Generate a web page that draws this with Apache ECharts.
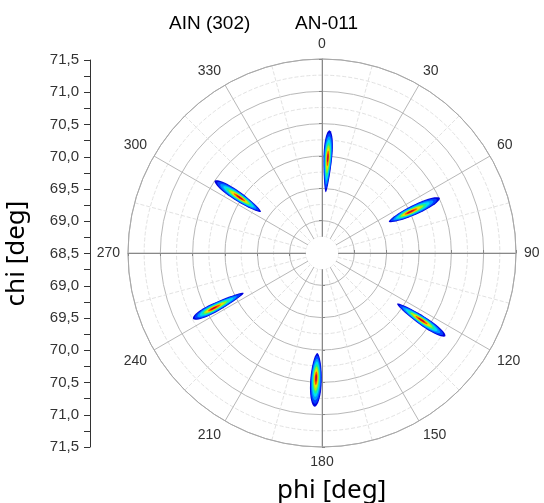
<!DOCTYPE html>
<html>
<head>
<meta charset="utf-8">
<script src="https://cdn.jsdelivr.net/npm/echarts@6/dist/echarts.min.js"></script>
<style>
  html, body { margin: 0; padding: 0; background: #fff; }
  #chart { width: 544px; height: 503px; }
</style>
</head>
<body>
<div id="chart"></div>
<script>
// axis ranges
const chiMin = 68.5;
const chiMax = 71.5;
const holeChi = 68.75;
const phiTicks = [0, 30, 60, 90, 120, 150, 180, 210, 240, 270, 300, 330];

// the six (302) reflections: peak position and extent of the outer contour
const phiPeak = [3.5, 65, 124, 182.7, 243, 304];
const chiPeak = [69.98, 70.0, 70.36, 70.43, 70.39, 70.03];
const chiInner = [69.44, 69.64, 69.9, 70.05, 69.86, 69.64];
const chiOuter = [70.40, 70.51, 70.8, 70.88, 70.74, 70.5];
const phiHalfWidth = [2.6, 2.8, 2.2, 2.6, 2.2, 2.7];

// contour levels (outer -> inner)
const levelScale = [1, 0.9, 0.78, 0.66, 0.55, 0.45, 0.35, 0.25, 0.14];
const levelColor = ['#0000dc', '#0040ff', '#0098ff', '#00e0f0', '#20f090', '#a0f020', '#f0e000', '#ff5000', '#c00030'];

const peaks = phiPeak.map((p, i) => [chiPeak[i], p, chiInner[i], chiOuter[i], phiHalfWidth[i]]);

const chart = echarts.init(document.getElementById('chart'));

const center = [322, 253];
const radius = [0, 194];
const gridColor = '#b8b8b8';
const minorColor = '#e2e2e2';
const axisColor = '#888';

// extra polars only draw the dark radial axis at 90, 180, 270
const extraStarts = [0, -90, 180];

function renderPeak(params, api) {
    const c = api.value(0), p = api.value(1);
    const lo = api.value(2), hi = api.value(3), w = api.value(4);
    const children = [];
    levelScale.forEach((s, k) => {
        const pts = [];
        for (let j = 0; j < 48; j++) {
            const t = Math.PI * 2 * j / 48;
            const u = Math.cos(t), v = Math.sin(t);
            const chi = c + s * (u >= 0 ? hi - c : c - lo) * u;
            const phi = p + s * w * Math.sign(v) * Math.pow(Math.abs(v), 1.1);
            pts.push(api.coord([chi, phi]));
        }
        children.push({ type: 'polygon', shape: { points: pts }, style: { fill: levelColor[k] } });
    });
    return { type: 'group', children };
}

function renderHole(params, api) {
    const c = api.coord([chiMin, 0]);
    const e = api.coord([api.value(0), 0]);
    const r = Math.hypot(e[0] - c[0], e[1] - c[1]);
    return { type: 'circle', shape: { cx: c[0], cy: c[1], r }, style: { fill: '#fff' } };
}

const polars = [{ center, radius }].concat(extraStarts.map(() => ({ center, radius })));

const angleAxes = [{
    polarIndex: 0,
    type: 'value',
    min: 0,
    max: 360,
    interval: 30,
    startAngle: 90,
    clockwise: true,
    axisLine: { lineStyle: { color: '#a8a8a8', width: 1 } },
    axisTick: { show: false },
    axisLabel: {
        margin: 8,
        color: '#333',
        fontSize: 14,
        fontFamily: 'Liberation Sans',
        formatter: v => (phiTicks.indexOf(v) >= 0 ? String(v) : '')
    },
    splitLine: { lineStyle: { color: gridColor, width: 1 } },
    minorTick: { show: false, splitNumber: 2 },
    minorSplitLine: { show: true, lineStyle: { color: minorColor, type: 'dashed', width: 1 } }
}].concat(extraStarts.map((s, i) => ({
    polarIndex: i + 1,
    type: 'value',
    min: 0,
    max: 360,
    startAngle: s,
    show: false
})));

const radiusAxes = [{
    polarIndex: 0,
    type: 'value',
    min: chiMin,
    max: chiMax,
    interval: 0.5,
    axisLine: { lineStyle: { color: axisColor, width: 1 } },
    axisTick: { show: true, length: 3, lineStyle: { color: axisColor } },
    axisLabel: { show: false },
    splitLine: { lineStyle: { color: gridColor, width: 1 } },
    minorTick: { show: false, splitNumber: 2 },
    minorSplitLine: { show: true, lineStyle: { color: minorColor, type: 'dashed', width: 1 } }
}].concat(extraStarts.map((s, i) => ({
    polarIndex: i + 1,
    type: 'value',
    min: chiMin,
    max: chiMax,
    interval: 0.5,
    axisLine: { lineStyle: { color: axisColor, width: 1 } },
    axisTick: { show: true, length: 3, lineStyle: { color: axisColor } },
    axisLabel: { show: false },
    splitLine: { show: false }
})));

chart.setOption({
    backgroundColor: '#fff',
    animation: false,
    title: [
        { text: 'AIN (302)', left: 164, top: 9, textStyle: { fontSize: 19, fontWeight: 'normal', color: '#000', fontFamily: 'Liberation Sans' } },
        { text: 'AN-011', left: 290, top: 9, textStyle: { fontSize: 19, fontWeight: 'normal', color: '#000', fontFamily: 'Liberation Sans' } },
        { text: 'phi [deg]', left: 272, top: 473, textStyle: { fontSize: 26, fontWeight: 'normal', color: '#000', fontFamily: 'Noto Sans' } }
    ],
    polar: polars,
    angleAxis: angleAxes,
    radiusAxis: radiusAxes,
    grid: { left: 90, top: 60, width: 10, height: 387 },
    xAxis: { type: 'value', show: false },
    yAxis: {
        type: 'value',
        min: -3,
        max: 3,
        interval: 0.5,
        name: 'chi [deg]',
        nameLocation: 'middle',
        nameRotate: 90,
        nameGap: 60,
        nameTextStyle: { fontSize: 26, color: '#000', fontFamily: 'Noto Sans' },
        axisLine: { show: true, lineStyle: { color: '#333' } },
        axisTick: { show: true, length: 6, lineStyle: { color: '#333' } },
        minorTick: { show: true, splitNumber: 2, length: 6, lineStyle: { color: '#333' } },
        splitLine: { show: false },
        axisLabel: {
            margin: 11,
            color: '#333',
            fontSize: 15,
            fontFamily: 'Liberation Sans',
            formatter: v => (chiMin + Math.abs(v)).toFixed(1).replace('.', ',')
        }
    },
    series: [
        {
            type: 'custom',
            coordinateSystem: 'polar',
            polarIndex: 0,
            encode: { radius: 0, angle: 1 },
            renderItem: renderHole,
            data: [[holeChi, 0]],
            silent: true,
            z: 3
        },
        {
            type: 'custom',
            coordinateSystem: 'polar',
            polarIndex: 0,
            encode: { radius: 0, angle: 1 },
            renderItem: renderPeak,
            data: peaks,
            z: 4
        }
    ]
});
</script>
</body>
</html>
